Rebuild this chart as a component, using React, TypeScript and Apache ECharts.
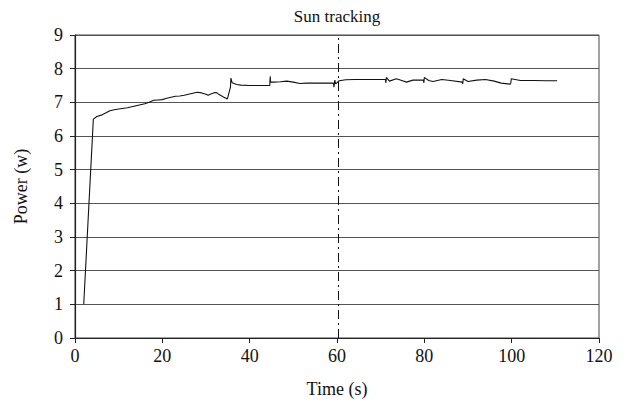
import React, { useEffect, useRef } from "react";
import * as echarts from "echarts";

const titleText = "Sun tracking";
const xName = "Time (s)";
const yName = "Power (w)";
const markerTime = 60.3;

const timeS = [
  2, 4.2, 5, 6, 7, 8, 9, 10, 12, 14, 16, 17, 18, 19, 20, 21, 22, 23, 24, 25,
  26, 27, 28, 29, 30, 30.5, 31, 32, 32.5, 33, 34, 34.9, 35.6, 35.7, 36.0, 37,
  38, 40, 42, 44.6, 44.7, 44.8, 45.5, 47, 48.5, 50, 51.5, 53, 55, 57, 59.2,
  59.3, 59.5, 59.7, 60.5, 62, 64, 66, 68, 70, 71.1, 71.2, 71.3, 72, 73.6, 75,
  75.9, 77.4, 79.8, 79.9, 80, 81, 82, 84, 86, 88.7, 88.8, 88.9, 90, 92, 94,
  96, 97.6, 99.7, 99.8, 99.9, 102, 105, 108, 110.4,
];
const powerW = [
  1, 6.5, 6.58, 6.62, 6.68, 6.75, 6.78, 6.8, 6.84, 6.9, 6.96, 7.0, 7.06, 7.07,
  7.08, 7.12, 7.15, 7.18, 7.19, 7.21, 7.24, 7.27, 7.3, 7.28, 7.24, 7.21, 7.24,
  7.29, 7.28, 7.23, 7.16, 7.1, 7.45, 7.72, 7.58, 7.53, 7.51, 7.5, 7.5, 7.5,
  7.77, 7.6, 7.6, 7.61, 7.63, 7.6, 7.56, 7.57, 7.57, 7.57, 7.57, 7.45, 7.66,
  7.55, 7.64, 7.67, 7.68, 7.68, 7.68, 7.68, 7.68, 7.58, 7.74, 7.63, 7.7, 7.64,
  7.6, 7.66, 7.66, 7.58, 7.74, 7.65, 7.62, 7.68, 7.65, 7.6, 7.55, 7.7, 7.62,
  7.66, 7.68, 7.63, 7.57, 7.54, 7.57, 7.7, 7.65, 7.65, 7.64, 7.64, 7.64,
];

const serif = "Liberation Serif";

export default function App() {
  const ref = useRef<HTMLDivElement>(null);
  useEffect(() => {
    if (!ref.current) return;
    const chart = echarts.init(ref.current, undefined, { renderer: "svg" });
    const data = timeS.map((t, i) => [t, powerW[i]]);
    chart.setOption({
      animation: false,
      backgroundColor: "#ffffff",
      textStyle: { fontFamily: serif },
      title: {
        text: titleText,
        left: 329,
        top: 0,
        padding: 0,
        textAlign: "center",
        textStyle: { fontFamily: serif, fontSize: 17, fontWeight: "normal", color: "#111" },
      },
      grid: {
        left: 67,
        right: 23,
        top: 27,
        bottom: 68,
        show: true,
        borderColor: "#444",
        borderWidth: 1,
        outerBoundsMode: "none",
        containLabel: false,
      },
      xAxis: {
        type: "value",
        min: 0,
        max: 120,
        interval: 20,
        name: xName,
        nameLocation: "middle",
        nameGap: 42,
        nameTextStyle: { fontFamily: serif, fontSize: 18, color: "#111" },
        axisLine: { show: true, onZero: false, lineStyle: { color: "#222", width: 1.2 } },
        axisTick: { show: true, inside: false, length: 5, lineStyle: { color: "#222" } },
        axisLabel: { fontFamily: serif, fontSize: 18, color: "#111", margin: 9 },
        splitLine: { show: false },
      },
      yAxis: {
        type: "value",
        min: 0,
        max: 9,
        interval: 1,
        name: yName,
        nameLocation: "middle",
        nameGap: 45,
        nameRotate: 90,
        nameTextStyle: { fontFamily: serif, fontSize: 18, color: "#111" },
        axisLine: { show: true, lineStyle: { color: "#222", width: 1.2 } },
        axisTick: { show: true, inside: false, length: 5, lineStyle: { color: "#222" } },
        axisLabel: { fontFamily: serif, fontSize: 18, color: "#111", margin: 12 },
        splitLine: { show: true, lineStyle: { color: "#555", width: 1 } },
      },
      series: [
        {
          type: "line",
          data,
          showSymbol: false,
          symbol: "none",
          lineStyle: { color: "#111", width: 1.1 },
          markLine: {
            silent: true,
            symbol: "none",
            label: { show: false },
            lineStyle: { color: "#111", width: 1, type: [9, 4, 2, 4] },
            data: [{ xAxis: markerTime }],
          },
        },
      ],
    });
    return () => chart.dispose();
  }, []);
  return <div ref={ref} style={{ width: 614, height: 398 }} />;
}
